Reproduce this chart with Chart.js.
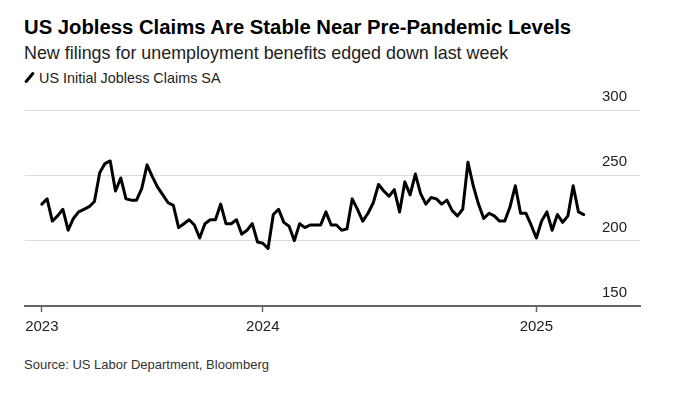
<!DOCTYPE html>
<html>
<head>
<meta charset="utf-8">
<script src="https://cdn.jsdelivr.net/npm/chart.js@4.4.1/dist/chart.umd.min.js"></script>
<style>
  body { margin: 0; background: #fff; font-family: "Liberation Sans", Arial, sans-serif; }
  .wrap { position: relative; width: 673px; height: 395px; overflow: hidden; }
  .title { position: absolute; left: 24px; top: 15px; font-size: 20.3px; font-weight: bold; color: #000; line-height: 24px; }
  .sub { position: absolute; left: 24px; top: 43px; font-size: 17.9px; color: #222; line-height: 21px; }
  .legend { position: absolute; left: 24px; top: 69px; font-size: 14.4px; color: #222; line-height: 18px; }
  .legend .mark { display: inline-block; width: 3px; height: 13px; background: #000; transform: rotate(40deg); margin: 0 8px 0 4px; vertical-align: -1px; border-radius: 1px; }
  .source { position: absolute; left: 24px; top: 357px; font-size: 13px; color: #333; line-height: 16px; }
  .chart { position: absolute; left: 0; top: 80px; width: 673px; height: 270px; }
</style>
</head>
<body>
<div class="wrap">
  <div class="title">US Jobless Claims Are Stable Near Pre-Pandemic Levels</div>
  <div class="sub">New filings for unemployment benefits edged down last week</div>
  <div class="legend"><span class="mark"></span>US Initial Jobless Claims SA</div>
  <div class="chart"><canvas id="myChart"></canvas></div>
  <div class="source">Source: US Labor Department, Bloomberg</div>
</div>

<script>

// data start

// weekly claims, thousands, week ending 2023-03-18 ... 2025-03-08
const claims = [
  228, 232, 215, 219, 224, 208, 217, 222, 224, 226,
  230, 252, 259, 261, 238, 248, 232, 231, 231, 240,
  258, 249, 241, 235, 229, 227, 210, 213, 216, 212,
  202, 213, 216, 216, 228, 213, 213, 216, 205, 208,
  213, 199, 198, 194, 220, 224, 214, 211, 200, 213,
  210, 212, 212, 212, 222, 212, 212, 208, 209, 232,
  224, 215, 221, 229, 243, 238, 234, 239, 222, 245,
  235, 251, 236, 228, 233, 232, 228, 231, 223, 219,
  224, 260, 242, 228, 217, 221, 219, 215, 215, 226,
  242, 221, 221, 212, 202, 215, 222, 208, 220, 214,
  219, 242, 222, 220
];

// week index where each year label sits
const yearTicks = [0, 42, 94];
const yearLabels = ['2023', '2024', '2025'];

const yTicks = [150, 200, 250, 300];

// data end

const points = claims.map(function (v, i) { return { x: i, y: v }; });

const ctx = document.getElementById('myChart');

new Chart(ctx, {
  type: 'line',
  data: {
    datasets: [{
      label: 'US Initial Jobless Claims SA',
      data: points,
      borderColor: '#000',
      borderWidth: 3,
      pointRadius: 0,
      tension: 0,
      borderJoinStyle: 'round',
      borderCapStyle: 'round'
    }]
  },
  options: {
    responsive: true,
    maintainAspectRatio: false,
    animation: false,
    layout: { padding: { left: 25, right: 33, top: 30, bottom: 8 } },
    plugins: {
      legend: { display: false },
      tooltip: { enabled: false }
    },
    scales: {
      x: {
        type: 'linear',
        min: -3.2,
        max: 113.7,
        afterBuildTicks: function (axis) {
          axis.ticks = yearTicks.map(function (v) { return { value: v }; });
        },
        grid: {
          drawOnChartArea: false,
          drawTicks: true,
          tickLength: 6,
          tickColor: '#666',
          tickWidth: 1.5
        },
        border: { display: true, color: '#666', width: 2 },
        ticks: {
          autoSkip: false,
          maxRotation: 0,
          padding: 6,
          color: '#222',
          font: { family: 'Liberation Sans', size: 15 },
          callback: function (value) {
            const k = yearTicks.indexOf(value);
            return k >= 0 ? yearLabels[k] : '';
          }
        }
      },
      y: {
        position: 'right',
        min: 150,
        max: 300,
        afterBuildTicks: function (axis) {
          axis.ticks = yTicks.map(function (v) { return { value: v }; });
        },
        afterFit: function (axis) {
          axis.width = 0;
        },
        grid: {
          drawTicks: false,
          color: function (c) { return c.tick && c.tick.value === 150 ? 'rgba(0,0,0,0)' : '#dcdcdc'; },
          lineWidth: 1
        },
        border: { display: false },
        ticks: {
          mirror: true,
          padding: -13,
          labelOffset: -13,
          color: '#222',
          font: { family: 'Liberation Sans', size: 15 }
        }
      }
    }
  }
});

</script>
</body>
</html>
